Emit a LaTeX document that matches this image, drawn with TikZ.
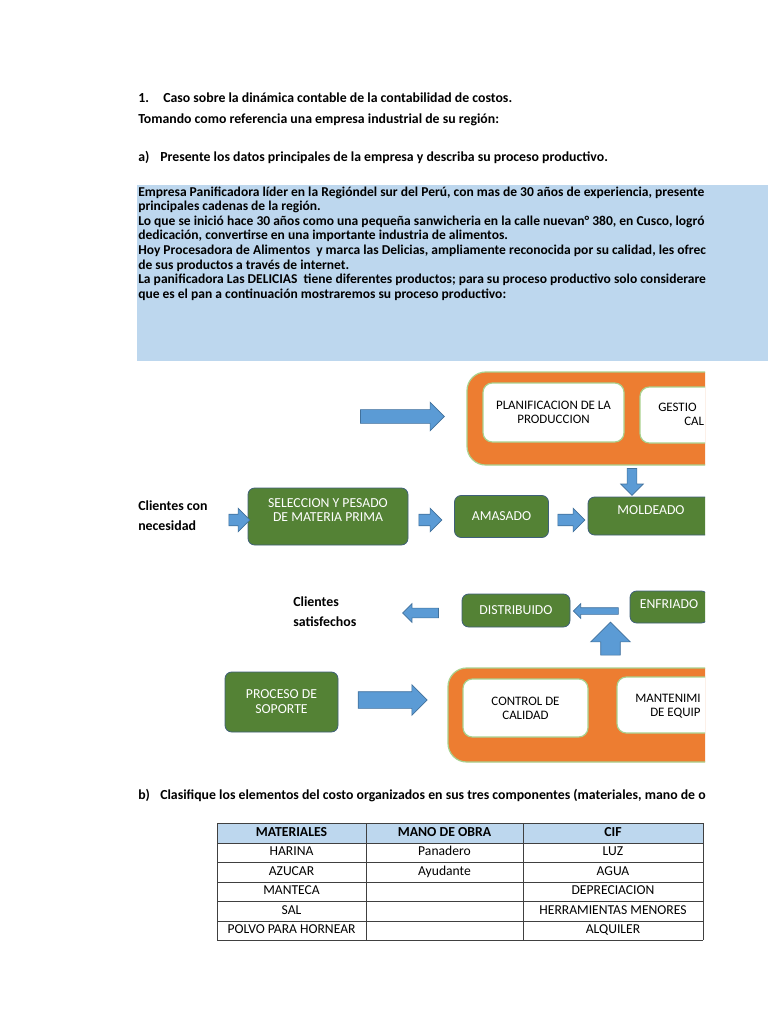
\documentclass[tikz,border=0pt]{standalone}
\usepackage{fontspec}
\setmainfont{Carlito}
\usetikzlibrary{shapes.arrows,positioning,calc}
\definecolor{skyfill}{HTML}{BDD7EE}
\definecolor{leafgreen}{HTML}{548235}
\definecolor{leafline}{HTML}{3F5F7A}
\definecolor{rustfill}{HTML}{ED7D31}
\definecolor{rimgreen}{HTML}{A9D18E}
\definecolor{arrowfill}{HTML}{5B9BD5}
\definecolor{arrowline}{HTML}{41719C}
\tikzset{
  every node/.style = {inner sep=0pt, font=\fontsize{10}{12}\selectfont},
  head/.style  = {anchor=base west, font=\bfseries\fontsize{10.35}{13}\selectfont},
  body/.style  = {anchor=base west, font=\bfseries\fontsize{10.15}{11}\selectfont},
  side/.style  = {anchor=base west, font=\bfseries\fontsize{10.4}{12}\selectfont},
  proc/.style  = {draw=leafline, line width=0.6pt, fill=leafgreen, rounded corners=5pt, text=white, align=center, font=\fontsize{10.3}{10.5}\selectfont},
  frame/.style = {draw=rimgreen, line width=0.9pt, fill=rustfill, rounded corners=14pt},
  card/.style  = {draw=rimgreen, line width=0.9pt, fill=white, rounded corners=7pt, align=center, font=\fontsize{9.7}{11}\selectfont},
  cut/.style   = {anchor=base west, font=\fontsize{9.7}{11}\selectfont},
  barrow/.style n args = {4}{single arrow, draw=arrowline, line width=0.5pt, fill=arrowfill, minimum height=#1, inner sep=#3, single arrow head extend=#4, minimum width=#2},
  cell/.style  = {anchor=base, font=\fontsize{10.2}{11}\selectfont},
  gridline/.style = {draw=black!75, line width=0.7pt}
}

\begin{document}
\begin{tikzpicture}[x=0.75pt, y=-0.75pt]
\useasboundingbox (0,0) rectangle (768,1024);
\fill[white] (0,0) rectangle (768,1024);

% headings
\node[head] (n1) at (138,103) {1.};
\node[head] (t1) at (163,103) {Caso sobre la dinámica contable de la contabilidad de costos.};
\node[head] (t2) at (138,123) {Tomando como referencia una empresa industrial de su región:};
\node[head] (na) at (138,161) {a)};
\node[head] (ta) at (160,161) {Presente los datos principales de la empresa y describa su proceso productivo.};

% company text
\fill[skyfill] (137,185) rectangle (768,361);
\begin{scope}
\clip (137,185) rectangle (706,361);
\foreach \txt [count=\i from 0] in {
  {Empresa Panificadora líder en la Regióndel sur del Perú, con mas de 30 años de experiencia, presente},
  {principales cadenas de la región.},
  {Lo que se inició hace 30 años como una pequeña sanwicheria en la calle nuevan° 380, en Cusco, logró},
  {dedicación, convertirse en una importante industria de alimentos.},
  {Hoy Procesadora de Alimentos\ \ y marca las Delicias, ampliamente reconocida por su calidad, les ofrec},
  {de sus productos a través de internet.},
  {La panificadora Las DELICIAS\ \ tiene diferentes productos; para su proceso productivo solo considerare},
  {que es el pan a continuación mostraremos su proceso productivo:}}
  \node[body] (intro\i) at (138,{196+14.65*\i}) {\txt};
\end{scope}

% process map
\begin{scope}
\clip (0,362) rectangle (705,770);
% top block
\node[frame, minimum width=328.5pt, minimum height=69.75pt] (topbox) at (686,418.5) {};
\node[card, minimum width=105.75pt, minimum height=44.25pt] (plan) at (553.5,412.5) {PLANIFICACION DE LA\\PRODUCCION};
\node[card, minimum width=105.75pt, minimum height=42pt] (gest) at (710.5,415) {};
\node[cut] (gestA) at (658,411) {GESTIO};
\node[cut] (gestB) at (684,425) {CAL};
\node[barrow={63pt}{21pt}{4.9pt}{5.6pt}] (ar0) at (399,416.5) {};

% main line
\node[side] (cli1) at (138,510) {Clientes con};
\node[side] (cli1b) at (138,530) {necesidad};
\node[proc, minimum width=120pt, minimum height=42.75pt, text depth=10pt] (sel) at (328,516.5) {SELECCION Y PESADO\\DE MATERIA PRIMA};
\node[proc, minimum width=70.5pt, minimum height=31.5pt] (ama) at (501.5,516.5) {AMASADO};
\node[proc, minimum width=94.5pt, minimum height=28.5pt, text depth=8.5pt] (mol) at (651,516) {MOLDEADO};
\node[barrow={15.75pt}{17.25pt}{4.1pt}{4.5pt}] (ar1) at (236.5,520) {};
\node[barrow={17.25pt}{17.25pt}{4.1pt}{4.5pt}] (ar2) at (427.5,520) {};
\node[barrow={20.25pt}{17.25pt}{4.1pt}{4.5pt}] (ar3) at (568.5,520) {};
\node[barrow={20.25pt}{16.5pt}{3.4pt}{4.9pt}, shape border rotate=270] (ar4) at (632,479.5) {};

% return line
\node[side] (sat1) at (293,606) {Clientes};
\node[side] (sat1b) at (293,626) {satisfechos};
\node[proc, minimum width=81pt, minimum height=24.75pt] (dist) at (516,610.5) {DISTRIBUIDO};
\node[proc, minimum width=58.5pt, minimum height=24pt, text depth=5pt] (enf) at (669,607) {ENFRIADO};
\node[barrow={27pt}{13.5pt}{3.4pt}{3.4pt}, shape border rotate=180] (ar5) at (423,613) {};
\node[barrow={33.75pt}{10.5pt}{2.25pt}{3pt}, shape border rotate=180] (ar6) at (597.5,611) {};
\node[barrow={24.75pt}{29.25pt}{7.1pt}{7.5pt}, shape border rotate=90] (ar7) at (610.5,643.5) {};

% support block
\node[proc, minimum width=84.75pt, minimum height=45pt, font=\fontsize{10.3}{11.3}\selectfont] (sop) at (281.5,702) {PROCESO DE\\SOPORTE};
\node[frame, minimum width=339pt, minimum height=70.5pt] (botbox) at (674,715) {};
\node[card, minimum width=93.75pt, minimum height=43.5pt, font=\fontsize{9.7}{10.5}\selectfont] (ctrl) at (525.5,708) {CONTROL DE\\CALIDAD};
\node[card, minimum width=93.75pt, minimum height=42pt] (mant) at (679.5,705) {};
\node[cut] (mantA) at (635,702) {MANTENIMI};
\node[cut] (mantB) at (650,716) {DE EQUIP};
\node[barrow={51.75pt}{22.5pt}{6pt}{5.25pt}] (ar8) at (388.5,700) {};
\end{scope}

% cost table
\node[head] (nb) at (138,799) {b)};
\node[head] (tb) at (160,799) {Clasifique los elementos del costo organizados en sus tres componentes (materiales, mano de o};
\fill[skyfill] (217,823) rectangle (703,843);
\foreach \y in {823,843,862,882,901,921,940}
  \draw[gridline] (217,\y) -- (703,\y);
\foreach \x in {217,366,523,703}
  \draw[gridline] (\x,823) -- (\x,940);
\node[cell, font=\bfseries\fontsize{10.3}{11}\selectfont] (h1) at (291.5,836.5) {MATERIALES};
\node[cell, font=\bfseries\fontsize{10.3}{11}\selectfont] (h2) at (444.5,836.5) {MANO DE OBRA};
\node[cell, font=\bfseries\fontsize{10.3}{11}\selectfont] (h3) at (613,836.5) {CIF};
\foreach \ma/\mo/\ci [count=\r] in {HARINA/Panadero/LUZ, AZUCAR/Ayudante/AGUA, MANTECA/{}/DEPRECIACION, SAL/{}/HERRAMIENTAS MENORES, POLVO PARA HORNEAR/{}/ALQUILER}{
  \node[cell] (ma\r) at (291.5,{836+19.5*\r}) {\ma};
  \node[cell] (mo\r) at (444.5,{836+19.5*\r}) {\mo};
  \node[cell] (ci\r) at (613,{836+19.5*\r}) {\ci};
}
\end{tikzpicture}
\end{document}
